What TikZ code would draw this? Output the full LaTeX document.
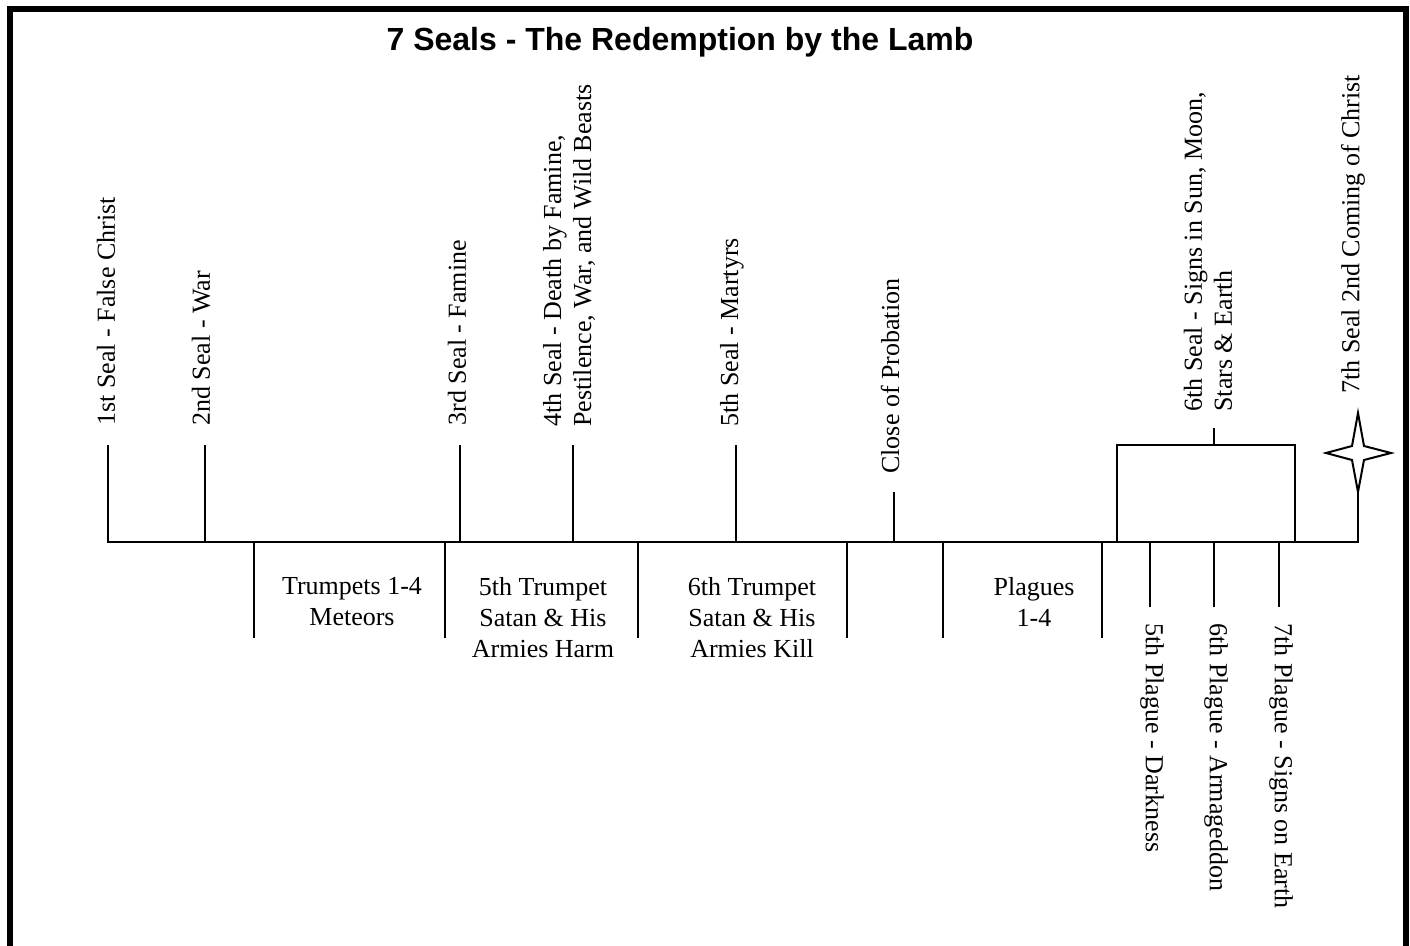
\documentclass[tikz,border=0pt]{standalone}
\usepackage{fontspec}
\setmainfont{Liberation Serif}
\newfontfamily\titlefont{Liberation Sans}

\begin{document}
\begin{tikzpicture}[x=0.5pt,y=-0.5pt,
        seal/.style={rotate=90,anchor=west,inner sep=0pt,align=left,font=\fontsize{13}{15}\selectfont},
        plague/.style={rotate=-90,anchor=west,inner sep=0pt,font=\fontsize{13}{15}\selectfont},
        trumpet/.style={anchor=north,inner sep=0pt,align=center,font=\fontsize{13}{15.5}\selectfont},
        tick/.style={line width=1pt}]
            \useasboundingbox (0,0) rectangle (1410,946);

            % frame, open at the bottom
            \draw[line width=3pt] (10,946) -- (10,9) -- (1405.5,9) -- (1405.5,946);

            \node[font=\titlefont\bfseries\fontsize{16}{19}\selectfont,anchor=base,inner sep=0pt] (title) at (680,51) {7 Seals - The Redemption by the Lamb};

            % time line
            \coordinate (start) at (108,542);
            \coordinate (end) at (1358,542);
            \coordinate (star) at (1358,453);
            \draw[tick] (108,445) -- (start) -- (end) -- (1358,492);

            % seals above the line
            \draw[tick] (205,542) -- (205,445);
            \draw[tick] (460,542) -- (460,445);
            \draw[tick] (573,542) -- (573,445);
            \draw[tick] (736,542) -- (736,445);
            \draw[tick] (894,542) -- (894,492);

            \node[seal] (seal1) at (106,426) {1st Seal - False Christ};
            \node[seal] (seal2) at (201,426) {2nd Seal - War};
            \node[seal] (seal3) at (457,426) {3rd Seal - Famine};
            \node[seal] (seal4) at (569,427) {4th Seal - Death by Famine,\\Pestilence, War, and Wild Beasts};
            \node[seal] (seal5) at (732,427) {5th Seal - Martyrs};
            \node[seal] (probation) at (890,474) {Close of Probation};
            \node[seal] (seal6) at (1208,412) {6th Seal - Signs in Sun, Moon,\\Stars \& Earth};
            \node[seal] (seal7) at (1353,394) {7th Seal 2nd Coming of Christ};

            % sixth seal box
            \draw[tick] (1117,542) rectangle (1295,445);
            \draw[tick] (1214,445) -- (1214,428);

            % second coming
            \draw[tick,fill=white,shift={(star)}] (0,-40) -- (6,-7) -- (33,0) -- (6,7) -- (0,39)
                -- (-6,7) -- (-32,0) -- (-6,-7) -- cycle;

            % trumpets below the line
            \draw[tick] (254,542) -- (254,638);
            \draw[tick] (445,542) -- (445,638);
            \draw[tick] (638,542) -- (638,638);
            \draw[tick] (847,542) -- (847,638);
            \draw[tick] (943,542) -- (943,638);
            \draw[tick] (1102,542) -- (1102,638);

            \node[trumpet] (trumpet14) at (352,577) {Trumpets 1-4\\Meteors};
            \node[trumpet] (trumpet5) at (543,577) {5th Trumpet\\Satan \& His\\Armies Harm};
            \node[trumpet] (trumpet6) at (752,577) {6th Trumpet\\Satan \& His\\Armies Kill};
            \node[trumpet] (plague14) at (1034,577) {Plagues\\1-4};

            % last plagues
            \draw[tick] (1150,542) -- (1150,607);
            \draw[tick] (1214,542) -- (1214,607);
            \draw[tick] (1279,542) -- (1279,607);

            \node[plague] (plague5) at (1152,623) {5th Plague - Darkness};
            \node[plague] (plague6) at (1216,623) {6th Plague - Armageddon};
            \node[plague] (plague7) at (1281,623) {7th Plague - Signs on Earth};
        \end{tikzpicture}
\end{document}
